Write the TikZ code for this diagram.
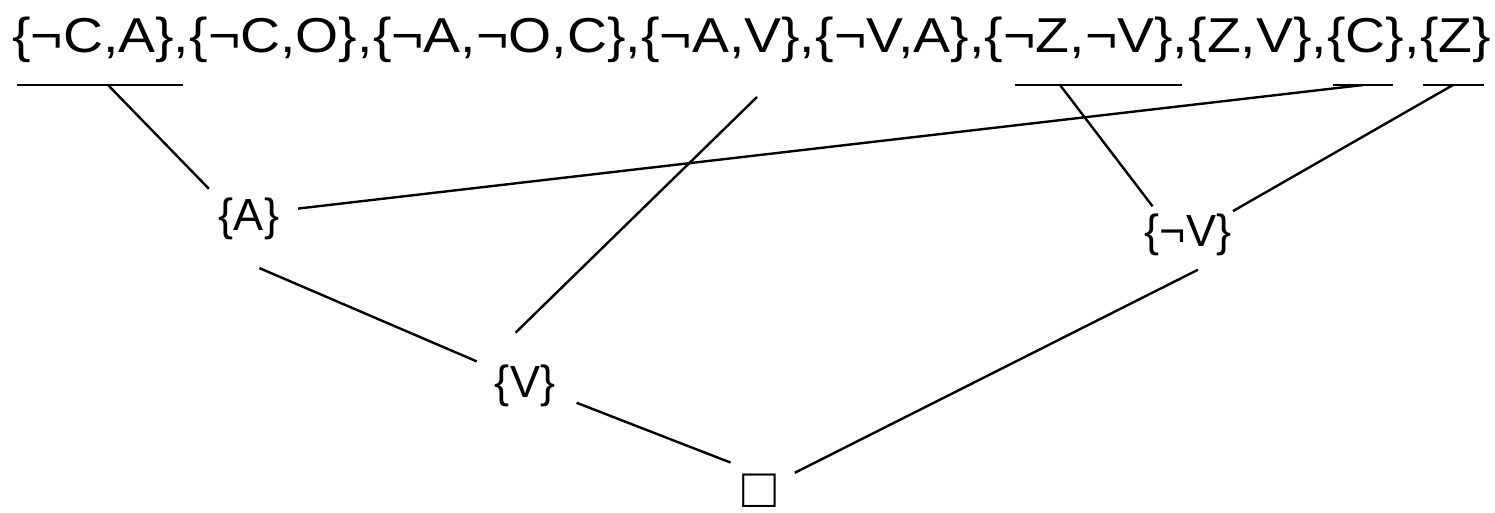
\documentclass[tikz,border=0pt]{standalone}
\usepackage{fontspec}
\setmainfont{Liberation Sans}
\newfontfamily\clausefont[FakeStretch=1.13]{Liberation Sans}
\usetikzlibrary{positioning,shapes.geometric}

\tikzset{
    clause/.style={inner sep=0pt, font=\clausefont\fontsize{49}{60}\selectfont},
    res/.style={circle, inner sep=0pt, minimum size=#1, font=\fontsize{45}{54}\selectfont},
    link/.style={line width=2.4pt},
}

\begin{document}
\begin{tikzpicture}[x=1pt, y=-1pt]
    \useasboundingbox (0,0) rectangle (1495,512);

    % the clause set
    \node[clause, anchor=base west] (c1) at (12,52) {\{¬C,A\},};
    \node[clause, base right=0pt of c1] (c2) {\{¬C,O\},};
    \node[clause, base right=0pt of c2] (c3) {\{¬A,¬O,C\},};
    \node[clause, base right=0pt of c3] (c4) {\{¬A,V\},};
    \node[clause, base right=0pt of c4] (c5) {\{¬V,A\},};
    \node[clause, base right=0pt of c5] (c6) {\{¬Z,¬V\},};
    \node[clause, base right=0pt of c6] (c7) {\{Z,V\},};
    \node[clause, base right=0pt of c7] (c8) {\{C\},};
    \node[clause, base right=0pt of c8] (c9) {\{Z\}};

    % underlines
    \draw[link] (17,85) -- (183,85);
    \draw[link] (1015,85) -- (1182,85);
    \draw[link] (1333,85) -- (1393,85);
    \draw[link] (1423,85) -- (1484,85);
    \coordinate (u1) at (108,85);
    \coordinate (u4) at (757,97);
    \coordinate (u6) at (1060,85);
    \coordinate (u8) at (1363,85);
    \coordinate (u9) at (1453,85);

    % resolvents
    \node[res=100pt] (A) at (249,219) {\{A\}};
    \node[res=108pt] (V) at (525,386) {\{V\}};
    \node[ellipse, inner sep=0pt, minimum width=120pt, minimum height=70pt,
          font=\fontsize{45}{54}\selectfont] (nV) at (1188,235) {\{¬V\}};
    \node[res=80pt, font=\fontsize{56}{60}\selectfont] (E) at (759,491) {□};

    % resolution steps
    \draw[link] (u1) -- (A.143);
    \draw[link] (u8) -- (A.12);
    \draw[link] (A.-78) -- (V.153);
    \draw[link] (u4) -- (V.100);
    \draw[link] (V.-18) -- (E.135);
    \draw[link] (E.27) -- (nV.-74);
    \draw[link] (u6) -- (nV.141);
    \draw[link] (u9) -- (nV.28);
\end{tikzpicture}
\end{document}
